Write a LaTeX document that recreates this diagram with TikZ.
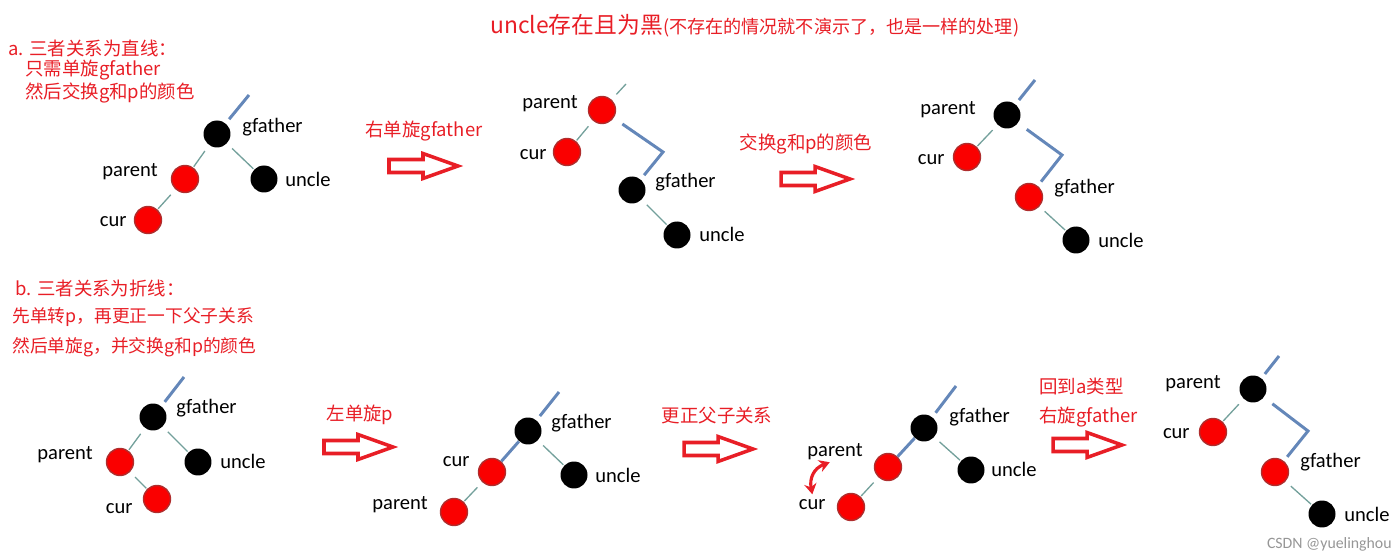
\documentclass[tikz,border=0pt]{standalone}
\usepackage{fontspec}
\usepackage{xcolor}
\usepackage{tikz}
\usetikzlibrary{arrows.meta,calc}
\setmainfont{Carlito}
\newfontfamily\cjkfont{Noto Sans CJK SC}
\definecolor{notered}{RGB}{232,30,38}
\definecolor{rednode}{RGB}{250,0,0}
\definecolor{redrim}{RGB}{175,45,45}
\definecolor{edgegray}{RGB}{115,160,155}
\definecolor{linkblue}{RGB}{100,135,185}
\definecolor{markgray}{RGB}{150,150,150}
\tikzset{
  rb node/.style={
    circle,
    minimum size=0.54cm,
    inner sep=0pt
  },
  red node/.style={
    rb node,
    fill=rednode,
    draw=redrim,
    line width=0.8pt
  },
  black node/.style={
    rb node,
    fill=black
  },
  node label/.style={
    inner sep=0pt,
    font=\fontsize{11.7pt}{13pt}\selectfont
  },
  note text/.style={
    inner sep=0pt,
    text=notered,
    font=\cjkfont\fontsize{10.5pt}{12pt}\selectfont
  },
  tree edge/.style={
    draw=edgegray,
    line width=0.75pt,
    shorten <=4pt,
    shorten >=0.5pt
  },
  tree link/.style={
    draw=linkblue,
    line width=1.7pt
  },
  hollow arrow/.pic={
    \draw[notered, fill=white, line width=2pt]
      (-36,-6.5) -- (-2,-6.5) -- (-2,-12.5) -- (33,0) -- (-2,12.5) -- (-2,6.5) -- (-36,6.5) -- cycle;
  },
  swap arrow/.style={
    {Stealth[length=6pt,width=7pt]}-{Stealth[length=6pt,width=7pt]},
    draw=notered,
    line width=1.8pt
  }
}

\begin{document}
\begin{tikzpicture}[x=0.02cm, y=-0.02cm]
  \useasboundingbox (0,0) rectangle (1400,560);

  % Title
  \node[note text, anchor=base west] (title) at (490,34)
    {{\fontsize{13pt}{15pt}\selectfont uncle存在且为黑}{\fontsize{10.3pt}{11pt}\selectfont (不存在的情况就不演示了，也是一样的处理)}};

  % Case a: straight line
  \node[note text, anchor=west] (texta1) at (8,48) {a. 三者关系为直线：};
  \node[note text, anchor=west] (texta2) at (25,70) {只需单旋gfather};
  \node[note text, anchor=west] (texta3) at (25,93) {然后交换g和p的颜色};

  \node[black node] (g1) at (217,134) {};
  \node[red node] (p1) at (185,179) {};
  \node[black node] (u1) at (264,179) {};
  \node[red node] (c1) at (148,220) {};
  \coordinate (g1up) at (249,95);
  \draw[tree link, shorten <=3pt] (g1) -- (g1up);
  \draw[tree edge] (g1) -- (p1);
  \draw[tree edge] (g1) -- (u1);
  \draw[tree edge] (p1) -- (c1);
  \node[node label, anchor=west] (g1l) at (242,127) {gfather};
  \node[node label, anchor=east] (p1l) at (158,172) {parent};
  \node[node label, anchor=west] (u1l) at (285,179) {uncle};
  \node[node label, anchor=east] (c1l) at (127,222) {cur};

  \pic (ar1) at (425,166) {hollow arrow};
  \node[note text] (ar1t) at (424,131) {右单旋gfather};

  \node[red node] (p2) at (602,110) {};
  \node[red node] (c2) at (567,152) {};
  \node[black node] (g2) at (632,190) {};
  \node[black node] (u2) at (677,235) {};
  \coordinate (p2up) at (626,84);
  \coordinate (k2) at (663,152);
  \draw[tree edge, shorten >=0pt] (p2) -- (p2up);
  \draw[tree link, shorten <=6pt, shorten >=3pt] (p2) -- (k2) -- (g2);
  \draw[tree edge] (p2) -- (c2);
  \draw[tree edge] (g2) -- (u2);
  \node[node label, anchor=east] (p2l) at (578,104) {parent};
  \node[node label, anchor=east] (c2l) at (547,155) {cur};
  \node[node label, anchor=west] (g2l) at (655,182) {gfather};
  \node[node label, anchor=west] (u2l) at (699,234) {uncle};

  \pic (ar2) at (817,179) {hollow arrow};
  \node[note text] (ar2t) at (806,144) {交换g和p的颜色};

  \node[black node] (p3) at (1007,115) {};
  \node[red node] (c3) at (967,157) {};
  \node[red node] (g3) at (1029,197) {};
  \node[black node] (u3) at (1076,240) {};
  \coordinate (p3up) at (1035,80);
  \coordinate (k3) at (1062,155);
  \draw[tree link, shorten <=3pt] (p3) -- (p3up);
  \draw[tree link, shorten <=6pt, shorten >=3pt] (p3) -- (k3) -- (g3);
  \draw[tree edge] (p3) -- (c3);
  \draw[tree edge] (g3) -- (u3);
  \node[node label, anchor=east] (p3l) at (976,110) {parent};
  \node[node label, anchor=east] (c3l) at (945,160) {cur};
  \node[node label, anchor=west] (g3l) at (1054,188) {gfather};
  \node[node label, anchor=west] (u3l) at (1098,240) {uncle};

  % Case b: broken line
  \node[note text, anchor=west] (textb1) at (15,288) {b. 三者关系为折线：};
  \node[note text, anchor=west, font=\cjkfont\fontsize{10.1pt}{12pt}\selectfont] (textb2) at (12,317) {先单转p，再更正一下父子关系};
  \node[note text, anchor=west, font=\cjkfont\fontsize{10.1pt}{12pt}\selectfont] (textb3) at (12,347) {然后单旋g，并交换g和p的颜色};

  \node[black node] (g4) at (153,417) {};
  \node[red node] (p4) at (120,462) {};
  \node[black node] (u4) at (198,462) {};
  \node[red node] (c4) at (157,499) {};
  \coordinate (g4up) at (184,377);
  \draw[tree link, shorten <=3pt] (g4) -- (g4up);
  \draw[tree edge] (g4) -- (p4);
  \draw[tree edge] (g4) -- (u4);
  \draw[tree edge] (p4) -- (c4);
  \node[node label, anchor=west] (g4l) at (176,408) {gfather};
  \node[node label, anchor=east] (p4l) at (93,455) {parent};
  \node[node label, anchor=west] (u4l) at (220,461) {uncle};
  \node[node label, anchor=east] (c4l) at (133,509) {cur};

  \pic (ar3) at (360,447) {hollow arrow};
  \node[note text] (ar3t) at (360,415) {左单旋p};

  \node[black node] (g5) at (528,431) {};
  \node[red node] (c5) at (492,472) {};
  \node[red node] (p5) at (454,512) {};
  \node[black node] (u5) at (574,475) {};
  \coordinate (g5up) at (559,392);
  \draw[tree link, shorten <=3pt] (g5) -- (g5up);
  \draw[tree link] (g5) -- (c5);
  \draw[tree edge] (g5) -- (u5);
  \draw[tree edge] (c5) -- (p5);
  \node[node label, anchor=west] (g5l) at (551,423) {gfather};
  \node[node label, anchor=east] (c5l) at (470,462) {cur};
  \node[node label, anchor=east] (p5l) at (428,505) {parent};
  \node[node label, anchor=west] (u5l) at (595,475) {uncle};

  \pic (ar4) at (720,449) {hollow arrow};
  \node[note text] (ar4t) at (717,416) {更正父子关系};

  \node[black node] (g6) at (924,428) {};
  \node[red node] (p6) at (888,467) {};
  \node[red node] (c6) at (851,507) {};
  \node[black node] (u6) at (971,470) {};
  \coordinate (g6up) at (956,386);
  \draw[tree link, shorten <=3pt] (g6) -- (g6up);
  \draw[tree link] (g6) -- (p6);
  \draw[tree edge] (g6) -- (u6);
  \draw[tree edge] (p6) -- (c6);
  \node[node label, anchor=west] (g6l) at (949,417) {gfather};
  \node[node label, anchor=east] (p6l) at (863,452) {parent};
  \node[node label, anchor=west] (u6l) at (991,469) {uncle};
  \node[node label, anchor=east] (c6l) at (826,505) {cur};
  \draw[swap arrow] ([xshift=-3pt,yshift=-1pt]p6l.south) .. controls +(-16,6) and +(-3,-16) .. ([yshift=3pt]c6l.north);

  \pic (ar5) at (1089,445) {hollow arrow};
  \node[note text, anchor=west] (ar5t1) at (1039,386) {回到a类型};
  \node[note text, anchor=west] (ar5t2) at (1039,417) {右旋gfather};

  \node[black node] (p7) at (1253,389) {};
  \node[red node] (c7) at (1213,432) {};
  \node[red node] (g7) at (1275,472) {};
  \node[black node] (u7) at (1322,514) {};
  \coordinate (p7up) at (1279,356);
  \coordinate (k7) at (1308,431);
  \draw[tree link, shorten <=3pt] (p7) -- (p7up);
  \draw[tree link, shorten <=6pt, shorten >=3pt] (p7) -- (k7) -- (g7);
  \draw[tree edge] (p7) -- (c7);
  \draw[tree edge] (g7) -- (u7);
  \node[node label, anchor=east] (p7l) at (1221,384) {parent};
  \node[node label, anchor=east] (c7l) at (1190,434) {cur};
  \node[node label, anchor=west] (g7l) at (1300,462) {gfather};
  \node[node label, anchor=west] (u7l) at (1344,514) {uncle};

  % Watermark
  \node[anchor=east, inner sep=0pt, text=markgray, font=\fontsize{9pt}{10pt}\selectfont] (mark) at (1392,544) {CSDN @yuelinghou};
\end{tikzpicture}
\end{document}
